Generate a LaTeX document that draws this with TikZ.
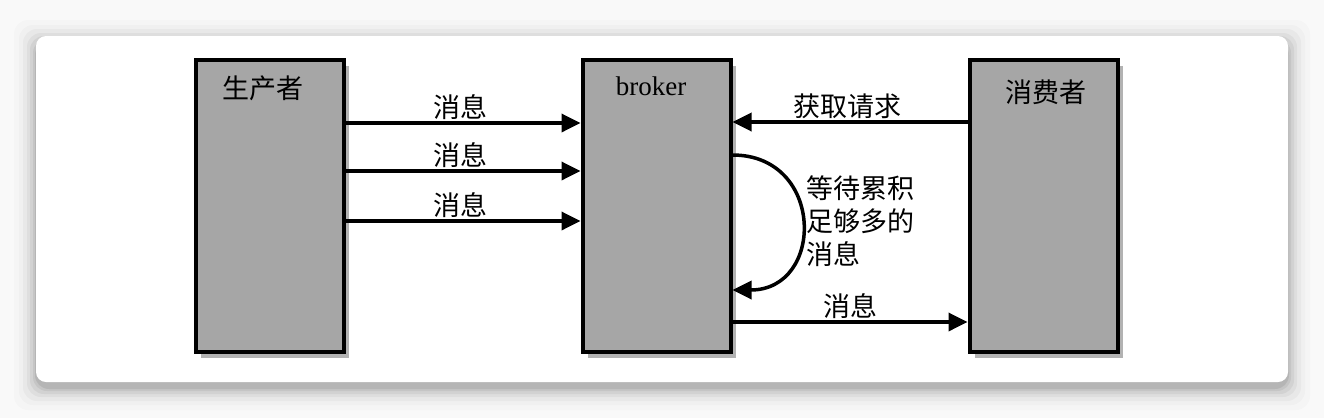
\documentclass[tikz,border=0pt]{standalone}
\usepackage{fontspec}
\setmainfont{Liberation Serif}
\newfontfamily\cjk{Noto Sans CJK SC}
\usetikzlibrary{arrows.meta,shadows}
\definecolor{boxgray}{HTML}{A6A6A6}
\tikzset{
  boxnode/.style={draw=black, line width=4pt, fill=boxgray, minimum width=148pt, minimum height=292pt, inner sep=0pt,
    drop shadow={shadow xshift=5pt, shadow yshift=-6pt, opacity=0.3, fill=black}},
  arr/.style={line width=3.5pt, -{Triangle[length=19pt,width=18pt]}},
  lbl/.style={font=\cjk\fontsize{27}{32}\selectfont, inner sep=2pt},
}
\begin{document}
\begin{tikzpicture}[x=1pt,y=-1pt]
\useasboundingbox (0,0) rectangle (1324,418);
\fill[gray!5] (0,0) rectangle (1324,418);
\foreach \i/\o in {22/0.015,17/0.02,13/0.03,9/0.04,6/0.05,3/0.06,1/0.08}{
  \fill[black, opacity=\o, rounded corners=14pt] (36-\i,36-\i+6) rectangle (1288+\i,382+\i+6);
}
\fill[white, rounded corners=10pt] (36,36) rectangle (1288,382);

\node[boxnode] (p) at (269.5,205.5) {};
\node[boxnode] (b) at (656.5,205.5) {};
\node[boxnode] (c) at (1043.5,205.5) {};

\node[lbl] (pt) at (263,88) {生产者};
\node[font=\fontsize{27}{32}\selectfont] (bt) at (651,86) {broker};
\node[lbl] (ct) at (1046,92) {消费者};

\coordinate (y1) at (0,123);
\coordinate (y2) at (0,171);
\coordinate (y3) at (0,221);
\coordinate (y4) at (0,122);
\coordinate (y5) at (0,322);
\coordinate (s1) at (0,155);
\coordinate (s2) at (0,290);

\draw[arr] (p.east |- y1) -- node[lbl, above, xshift=-3pt] (m1) {消息} (b.west |- y1);
\draw[arr] (p.east |- y2) -- node[lbl, above, xshift=-3pt] (m2) {消息} (b.west |- y2);
\draw[arr] (p.east |- y3) -- node[lbl, above, xshift=-3pt] (m3) {消息} (b.west |- y3);
\draw[arr] (c.west |- y4) -- node[lbl, above, xshift=-3pt] (m4) {获取请求} (b.east |- y4);
\draw[arr] (b.east |- y5) -- node[lbl, above] (m5) {消息} (c.west |- y5);

\draw[arr] (b.east |- s1) .. controls (825,155) and (825,290) .. (b.east |- s2);
\node[lbl, align=left, anchor=west, font=\cjk\fontsize{27}{33}\selectfont] (w) at (804,221) {等待累积\\足够多的\\消息};
\end{tikzpicture}
\end{document}
